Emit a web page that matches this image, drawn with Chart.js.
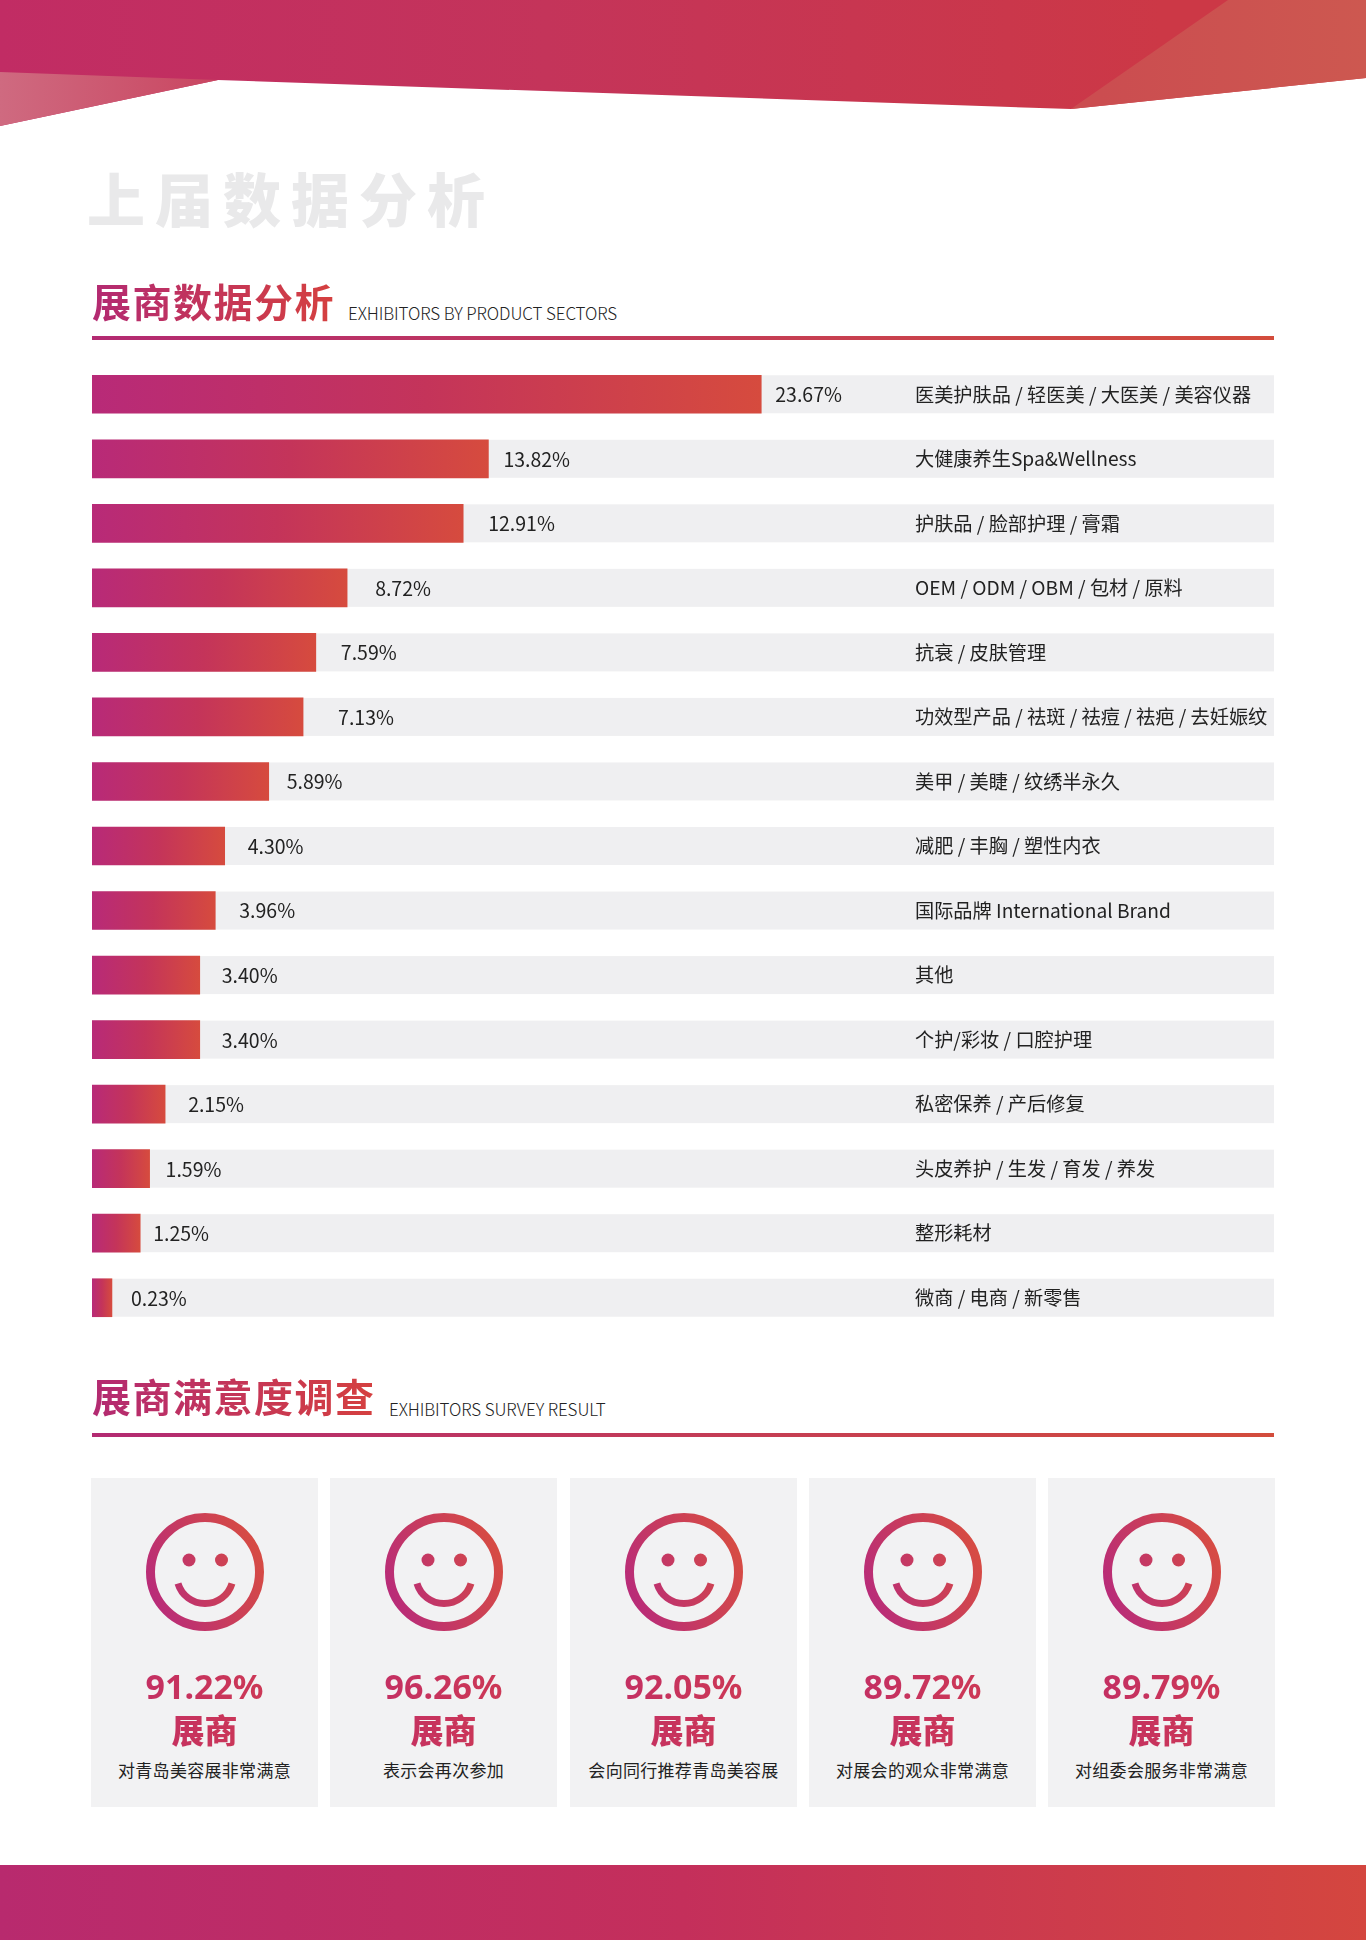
<!DOCTYPE html>
<html lang="zh-CN">
<head>
  <meta charset="UTF-8" />
  <title>上届数据分析</title>
  <script src="https://cdn.jsdelivr.net/npm/chart.js"></script>
  <style>
    body { margin: 0; background: #fff; font-family: "Noto Sans CJK SC", sans-serif; }
    #page { position: relative; width: 1366px; height: 1940px; overflow: hidden; }
    #page > * { position: absolute; }

    /* top + bottom bands */
    #bandTop { left: 0; top: 0; width: 1366px; height: 130px; background: linear-gradient(90deg, #c12c64, #c4345a 40%, #cc3846 85%);
      clip-path: polygon(0 0, 1366px 0, 1366px 78px, 1071px 109px, 218px 80px, 0 126px); }
    #bandRight { left: 0; top: 0; width: 1366px; height: 130px; background: linear-gradient(90deg, #cb4d50 1100px, #cd5850);
      clip-path: polygon(1228px 0, 1366px 0, 1366px 78px, 1071px 109px); }
    #bandLeft { left: 0; top: 0; width: 230px; height: 130px; background: linear-gradient(90deg, #cf6a80, #c9445f);
      clip-path: polygon(0 72px, 218px 80px, 0 126px); }
    #bandBottom { left: 0; top: 1865px; width: 1366px; height: 75px; background: linear-gradient(90deg, #b82a6e, #c42f5b 50%, #d4463f); }

    #bigTitle { left: 87px; top: 157px; font-size: 58px; font-weight: 900; line-height: 80px; letter-spacing: 10px; color: #e9e9ea; white-space: nowrap; }

    .heading { font-size: 39px; font-weight: 700; line-height: 50px; letter-spacing: 1.5px; white-space: nowrap;
      background: linear-gradient(90deg, #b32a72, #d5403f); -webkit-background-clip: text; background-clip: text; color: transparent; }
    .sub { font-size: 17px; font-weight: 300; line-height: 24px; color: #222; letter-spacing: -0.1px; white-space: nowrap; }
    .rule { left: 92px; width: 1182px; height: 4px; background: linear-gradient(90deg, #b32a72, #d34c3c); }

    #sectorChart { left: 92px; top: 362px; }

    .card { top: 1478px; width: 227px; height: 329px; background: #f2f2f3; text-align: center; }
    .card svg { position: absolute; left: 55px; top: 35px; }
    .card .pct, .card .who { position: absolute; left: 0; width: 100%; font-weight: 700;
      background: linear-gradient(90deg, #c02c68, #d03c50); -webkit-background-clip: text; background-clip: text; color: transparent; }
    .card .pct { top: 186px; font-family: "Noto Sans", sans-serif; font-size: 34px; line-height: 44px; }
    .card .who { top: 227px; font-size: 33px; font-weight: 900; line-height: 48px; }
    .card .cap { position: absolute; left: 0; width: 100%; top: 278px; font-size: 17px; line-height: 28px; letter-spacing: 0.3px; color: #222; white-space: nowrap; }
  </style>
</head>
<body>
<div id="page">
  <div id="bandTop"></div>
  <div id="bandRight"></div>
  <div id="bandLeft"></div>
  <div id="bigTitle">上届数据分析</div>

  <div class="heading" style="left:92px;top:275px">展商数据分析</div>
  <div class="sub" style="left:348px;top:301px">EXHIBITORS BY PRODUCT SECTORS</div>
  <div class="rule" style="top:336px"></div>

  <canvas id="sectorChart" width="1182" height="968"></canvas>

  <div class="heading" style="left:92px;top:1370px">展商满意度调查</div>
  <div class="sub" style="left:389px;top:1397px">EXHIBITORS SURVEY RESULT</div>
  <div class="rule" style="top:1433px"></div>

  <div id="bandBottom"></div>
</div>

<script>
  const sectorLabels = [
    '医美护肤品 / 轻医美 / 大医美 / 美容仪器',
    '大健康养生Spa&Wellness',
    '护肤品 / 脸部护理 / 膏霜',
    'OEM / ODM / OBM / 包材 / 原料',
    '抗衰 / 皮肤管理',
    '功效型产品 / 祛斑 / 祛痘 / 祛疤 / 去妊娠纹',
    '美甲 / 美睫 / 纹绣半永久',
    '减肥 / 丰胸 / 塑性内衣',
    '国际品牌 International Brand',
    '其他',
    '个护/彩妆 / 口腔护理',
    '私密保养 / 产后修复',
    '头皮养护 / 生发 / 育发 / 养发',
    '整形耗材',
    '微商 / 电商 / 新零售'
  ];
  const sectorValues = [23.67, 13.82, 12.91, 8.72, 7.59, 7.13, 5.89, 4.30, 3.96, 3.40, 3.40, 2.15, 1.59, 1.25, 0.23];

  const surveyValues = ['91.22%', '96.26%', '92.05%', '89.72%', '89.79%'];
  const surveyCaptions = ['对青岛美容展非常满意', '表示会再次参加', '会向同行推荐青岛美容展', '对展会的观众非常满意', '对组委会服务非常满意'];

  // axis range: the poster's bars start a little below zero
  const axisMin = -0.49;
  const axisMax = 42.18;
  // gap between bar end and its value label, uneven in the poster
  const labelGaps = [14, 15, 25, 28, 25, 35, 18, 23, 24, 22, 22, 23, 16, 13, 19];

  function barGradient(ctx) {
    const chart = ctx.chart;
    if (!chart.chartArea || ctx.dataIndex === undefined) return '#c9375a';
    const end = chart.scales.x.getPixelForValue(sectorValues[ctx.dataIndex]);
    const g = chart.ctx.createLinearGradient(chart.chartArea.left, 0, end, 0);
    g.addColorStop(0, '#b82a78');
    g.addColorStop(0.5, '#c4345a');
    g.addColorStop(1, '#d64b3e');
    return g;
  }

  // grey track behind each bar
  const trackPlugin = {
    id: 'track',
    beforeDatasetsDraw(chart) {
      const { ctx, chartArea } = chart;
      ctx.save();
      ctx.fillStyle = '#efeff1';
      chart.getDatasetMeta(0).data.forEach(bar => {
        ctx.fillRect(chartArea.left, bar.y - bar.height / 2, chartArea.width, bar.height);
      });
      ctx.restore();
    }
  };

  // value text right of each bar
  const valuePlugin = {
    id: 'values',
    afterDatasetsDraw(chart) {
      const ctx = chart.ctx;
      ctx.save();
      ctx.fillStyle = '#222';
      ctx.font = '400 19.5px "Noto Sans CJK SC"';
      ctx.textBaseline = 'middle';
      chart.getDatasetMeta(0).data.forEach((bar, i) => {
        ctx.fillText(sectorValues[i].toFixed(2) + '%', bar.x + labelGaps[i], bar.y + 0.5);
      });
      ctx.restore();
    }
  };

  new Chart(document.getElementById('sectorChart'), {
    type: 'bar',
    data: {
      labels: sectorLabels,
      datasets: [{ data: sectorValues, base: axisMin, barThickness: 38, backgroundColor: barGradient }]
    },
    options: {
      indexAxis: 'y',
      responsive: false,
      animation: false,
      layout: { padding: 0 },
      plugins: { legend: { display: false }, tooltip: { enabled: false } },
      scales: {
        x: { display: false, min: axisMin, max: axisMax },
        y: {
          grid: { display: false },
          border: { display: false },
          // mirrored labels sit inside the plot, axis takes no room
          afterFit(scale) { scale.width = 0; scale.paddingTop = 0; scale.paddingBottom = 0; },
          ticks: {
            z: 1,
            mirror: true,
            padding: 823,
            autoSkip: false,
            color: '#222',
            font: { family: '"Noto Sans CJK SC"', size: 19.2 }
          }
        }
      }
    },
    plugins: [trackPlugin, valuePlugin]
  });

  // satisfaction cards
  const page = document.getElementById('page');
  const smile = `<svg width="118" height="118" viewBox="-59 -59 118 118">
      <defs><linearGradient id="smileGrad" gradientUnits="userSpaceOnUse" x1="-50" y1="30" x2="55" y2="-15">
        <stop offset="0" stop-color="#b92c78"/><stop offset="1" stop-color="#d64b44"/></linearGradient></defs>
      <circle r="54.5" fill="none" stroke="url(#smileGrad)" stroke-width="9"/>
      <circle cx="-16" cy="-12" r="6.5" fill="url(#smileGrad)"/>
      <circle cx="16.5" cy="-12" r="6.5" fill="url(#smileGrad)"/>
      <path d="M-27 11.5 A28.2 28.2 0 0 0 27 11.5" fill="none" stroke="url(#smileGrad)" stroke-width="7"/>
    </svg>`;
  surveyValues.forEach((v, i) => {
    const card = document.createElement('div');
    card.className = 'card';
    card.style.left = Math.round(91 + i * 239.3) + 'px';
    card.innerHTML = smile + `<div class="pct">${v}</div><div class="who">展商</div><div class="cap">${surveyCaptions[i]}</div>`;
    page.appendChild(card);
  });
</script>
</body>
</html>
